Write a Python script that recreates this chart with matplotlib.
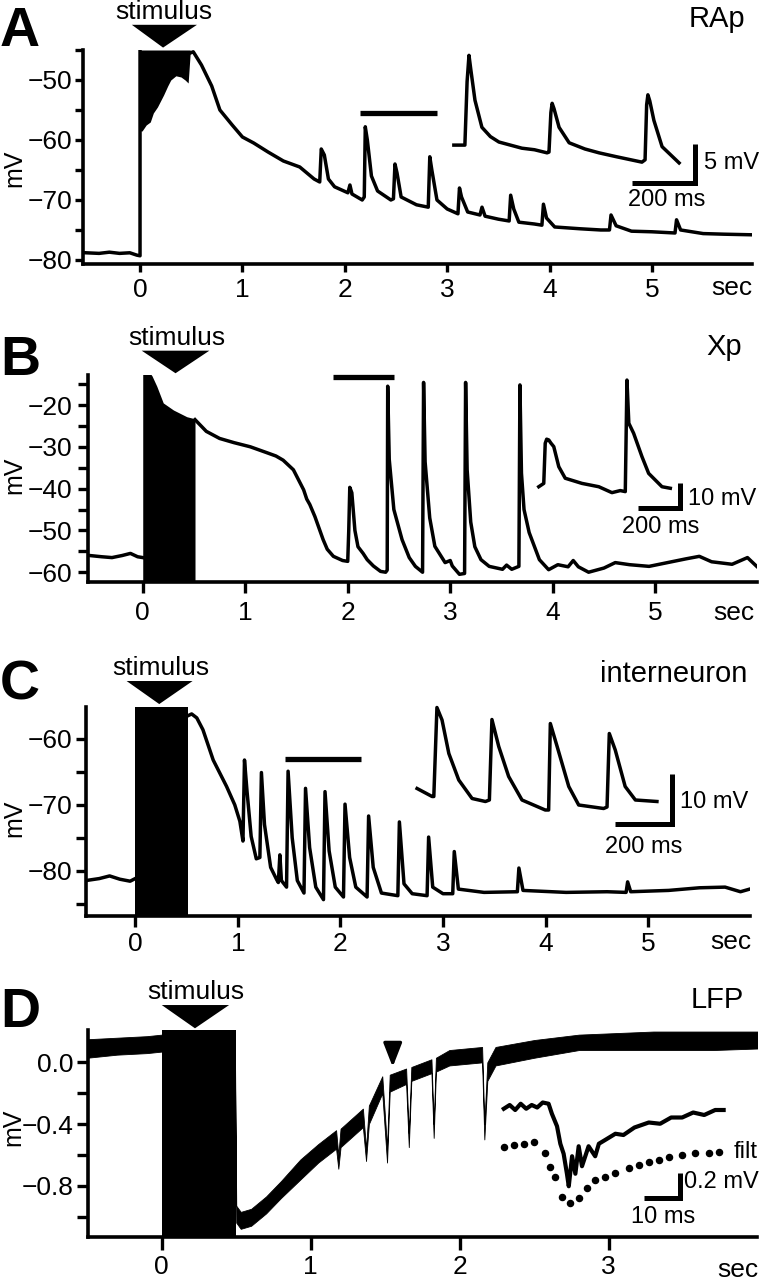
import numpy as np
import matplotlib
matplotlib.use('Agg')
import matplotlib.pyplot as plt
from matplotlib.patches import Polygon

plt.rcParams['font.family'] = ['Liberation Sans', 'DejaVu Sans']

W, H = 764, 1280

# ---------------- data ----------------
# A: RAp
A_base_t = [-0.53, -0.4, -0.3, -0.2, -0.1, -0.03, 0.0, 0.0]
A_base_v = [-78.8, -78.9, -78.7, -78.9, -78.8, -79.2, -79.3, -44.0]
A_stim_t = [0.0, 0.02, 0.06, 0.10, 0.13, 0.17, 0.20, 0.23, 0.27, 0.30, 0.35, 0.40, 0.44, 0.47, 0.49]
A_stim_lo = [-58.5, -58.5, -57.5, -57.0, -55.5, -54.5, -53.5, -52.5, -51.0, -50.0, -49.3, -49.5, -50.0, -50.5, -45.5]
A_t = [0.49, 0.52, 0.6, 0.7, 0.78, 0.9, 1.0, 1.11, 1.25, 1.4, 1.56, 1.7, 1.755, 1.77, 1.8, 1.84, 1.9,
       2.03, 2.05, 2.07, 2.17, 2.19, 2.2, 2.22, 2.26, 2.32, 2.45, 2.475, 2.49, 2.51, 2.55, 2.7, 2.815,
       2.83, 2.85, 2.9, 3.0, 3.105, 3.12, 3.14, 3.2, 3.32, 3.34, 3.37, 3.5, 3.605, 3.62, 3.65, 3.7,
       3.85, 3.925, 3.94, 3.97, 4.05, 4.3, 4.5, 4.585, 4.6, 4.65, 4.8, 5.0, 5.225, 5.24, 5.28, 5.5,
       5.7, 5.97]
A_v = [-45.5, -45.3, -47.5, -51.0, -55.0, -57.5, -59.5, -60.5, -62.0, -63.5, -64.5, -66.5, -67.0,
       -61.5, -62.5, -66.5, -67.8, -68.8, -67.5, -69.0, -70.0, -69.5, -57.8, -60.0, -66.0, -68.5,
       -70.0, -69.8, -64.0, -65.5, -69.5, -70.8, -71.2, -62.8, -65.0, -70.0, -71.5, -72.3, -68.0,
       -69.5, -72.0, -72.5, -71.2, -72.7, -73.2, -73.5, -69.2, -71.5, -73.7, -74.0, -74.2, -70.7,
       -73.0, -74.5, -74.8, -75.0, -75.0, -72.5, -74.3, -75.2, -75.3, -75.5, -73.3, -75.0, -75.6,
       -75.7, -75.8]
A_bar = [2.15, 2.90]
A_bar_v = -55.5
A_ins_ms = [44, 79, 86, 92, 98, 111, 133, 160, 187, 260, 300, 340, 346, 352, 356, 362, 378, 410,
            460, 505, 560, 641, 651, 656, 660, 666, 679, 705, 759]
A_ins_mv = [5.8, 5.8, 14.0, 17.4, 15.5, 11.6, 8.1, 6.9, 6.2, 5.4, 5.2, 4.8, 4.9, 10.0, 11.2, 10.5,
            8.1, 6.1, 5.3, 4.8, 4.3, 3.6, 3.9, 11.0, 12.3, 11.5, 9.0, 5.6, 3.5]

# B: Xp
B_base_t = [-0.52, -0.4, -0.3, -0.2, -0.12, -0.05, 0.0]
B_base_v = [-56.0, -56.3, -56.5, -56.0, -55.5, -56.3, -56.5]
B_stim_t = [0.0, 0.09, 0.137, 0.2, 0.3, 0.43, 0.51]
B_stim_hi = [-10.0, -13.0, -15.5, -19.5, -21.2, -22.8, -23.3]
B_t = [0.51, 0.62, 0.75, 0.89, 1.05, 1.21, 1.3, 1.37, 1.47, 1.57, 1.6, 1.63, 1.68, 1.76, 1.8, 1.86,
       1.95, 2.0, 2.01, 2.02, 2.04, 2.07, 2.1, 2.15, 2.19, 2.25, 2.32, 2.37, 2.385, 2.39, 2.405, 2.45,
       2.53, 2.6, 2.66, 2.73, 2.74, 2.755, 2.8, 2.85, 2.95, 3.0, 3.02, 3.09, 3.14, 3.15, 3.165, 3.2,
       3.24, 3.3, 3.38, 3.51, 3.55, 3.6, 3.67, 3.68, 3.695, 3.72, 3.77, 3.87, 3.96, 4.05, 4.15, 4.2,
       4.25, 4.35, 4.5, 4.61, 4.75, 4.94, 5.1, 5.3, 5.43, 5.55, 5.75, 5.9, 5.99]
B_v = [-23.5, -26.3, -28.0, -29.0, -30.0, -31.4, -32.2, -33.2, -35.5, -40.3, -42.5, -43.8, -46.7,
       -52.2, -54.5, -56.2, -57.2, -57.4, -50.0, -39.7, -41.0, -50.0, -53.9, -55.5, -57.0, -58.5,
       -59.8, -60.0, -59.5, -15.5, -33.0, -45.0, -52.2, -56.5, -58.6, -60.0, -14.6, -33.6, -47.0,
       -53.8, -57.7, -57.2, -58.5, -60.5, -60.3, -14.6, -35.5, -48.0, -53.9, -57.0, -58.6, -59.3,
       -58.3, -59.3, -58.6, -15.2, -36.3, -45.0, -50.5, -57.0, -59.4, -58.2, -58.7, -57.2, -58.7,
       -60.0, -59.0, -57.7, -58.2, -58.6, -57.8, -56.8, -56.2, -57.5, -58.1, -56.5, -58.6]
B_bar = [1.86, 2.45]
B_bar_v = -13.2
B_ins_ms = [42, 66, 73, 80, 90, 100, 114, 138, 169, 249, 330, 393, 433, 457, 465, 474, 497, 537, 569,
            601, 633, 673]
B_ins_mv = [11.0, 12.3, 27.9, 29.5, 29.2, 28.0, 26.6, 18.8, 14.3, 12.3, 11.0, 8.7, 9.5, 9.1, 52.5,
            35.7, 31.8, 22.7, 16.2, 13.6, 11.0, 10.4]

# C: interneuron
C_base_t = [-0.48, -0.35, -0.25, -0.15, -0.05, 0.0]
C_base_v = [-81.5, -81.2, -80.8, -81.3, -81.6, -81.2]
C_stim = [0.0, 0.51]
C_t = [0.51, 0.55, 0.6, 0.66, 0.76, 0.89, 0.97, 1.02, 1.05, 1.065, 1.09, 1.13, 1.18, 1.215, 1.23,
       1.26, 1.32, 1.38, 1.395, 1.41, 1.425, 1.475, 1.49, 1.53, 1.58, 1.645, 1.66, 1.7, 1.76, 1.835,
       1.85, 1.89, 1.95, 2.03, 2.045, 2.09, 2.15, 2.26, 2.275, 2.32, 2.4, 2.56, 2.575, 2.62, 2.7,
       2.845, 2.86, 2.9, 3.0, 3.095, 3.11, 3.15, 3.4, 3.725, 3.74, 3.78, 4.2, 4.6, 4.785, 4.8, 4.83,
       5.2, 5.5, 5.75, 5.9, 5.99]
C_v = [-56.5, -56.2, -56.8, -58.6, -63.2, -67.2, -70.0, -72.5, -75.5, -63.2, -68.0, -74.8, -78.2,
       -78.0, -65.1, -73.0, -79.5, -81.4, -81.8, -77.6, -81.5, -82.5, -64.9, -75.0, -81.5, -83.4,
       -67.5, -76.5, -82.5, -84.4, -68.0, -77.0, -82.5, -84.0, -69.9, -78.0, -82.5, -84.0, -71.7,
       -79.5, -83.4, -83.8, -72.6, -82.0, -83.5, -83.8, -74.9, -82.5, -83.5, -83.5, -77.1, -82.8,
       -83.3, -83.2, -79.6, -83.0, -83.3, -83.2, -83.3, -81.7, -83.2, -83.0, -82.6, -82.5, -83.2,
       -82.8]
C_bar = [1.46, 2.20]
C_bar_v = -63.1
C_ins_ms = [25, 78, 84, 95, 113, 137, 172, 219, 266, 280, 289, 313, 348, 395, 477, 489, 495, 519,
            560, 595, 683, 695, 703, 724, 759, 795, 871]
C_ins_mv = [8.3, 6.7, 6.7, 24.5, 22.0, 15.3, 10.0, 6.3, 5.7, 6.0, 22.1, 16.7, 10.7, 6.0, 4.0, 4.0,
            21.3, 16.7, 8.7, 5.0, 4.3, 4.6, 19.3, 16.0, 8.7, 6.0, 5.7]

# D: LFP
D_stim = [0.0, 0.497]
D_t = [-0.50, -0.30, -0.10, 0.00, 0.49, 0.50, 0.53, 0.60, 0.70, 0.80, 0.93, 1.05, 1.17, 1.185,
       1.20, 1.35, 1.371, 1.39, 1.48, 1.512, 1.53, 1.64, 1.658, 1.675, 1.81, 1.825, 1.84, 1.93,
       2.15, 2.165, 2.185, 2.24, 2.50, 2.80, 3.30, 3.70, 4.00]
D_hi = [0.15, 0.16, 0.17, 0.18, 0.21, -0.93, -0.97, -0.95, -0.87, -0.77, -0.63, -0.53, -0.44, -0.60,
        -0.43, -0.30, -0.56, -0.28, -0.09, -0.55, -0.08, -0.04, -0.46, -0.03, 0.02, -0.40, 0.03,
        0.08, 0.10, -0.40, 0.00, 0.10, 0.145, 0.18, 0.20, 0.20, 0.20]
D_lo = [0.03, 0.05, 0.06, 0.07, 0.07, -1.04, -1.08, -1.06, -0.98, -0.88, -0.76, -0.65, -0.56, -0.69,
        -0.55, -0.42, -0.64, -0.40, -0.20, -0.65, -0.19, -0.14, -0.55, -0.12, -0.07, -0.49, -0.06,
        -0.02, 0.00, -0.50, -0.12, -0.02, 0.03, 0.08, 0.08, 0.08, 0.09]
D_arrow_t = 1.55
D_ins_ms = [2.4, 4, 5.5, 7, 8.5, 10, 11.5, 13, 14.6, 15.5, 16.9, 17.8, 18.7, 19.6, 20.1, 21.0, 21.9,
            22.8, 23.7, 25.5, 27.3, 28.3, 30, 32.8, 35, 38, 41.9, 45, 48, 51, 54, 57, 60, 62.3]
D_ins_mv = [0.81, 0.84, 0.80, 0.85, 0.81, 0.84, 0.82, 0.86, 0.85, 0.77, 0.67, 0.53, 0.45, 0.29,
            0.19, 0.43, 0.29, 0.51, 0.35, 0.51, 0.43, 0.53, 0.56, 0.61, 0.60, 0.66, 0.70, 0.69, 0.74,
            0.74, 0.78, 0.76, 0.80, 0.80]
D_filt_ms = [2.4, 5.1, 7.8, 10.5, 13.7, 15.1, 16.4, 18.3, 20.4, 22.8, 25.1, 27.3, 30.1, 32.8, 36.4,
             39.2, 41.9, 44.6, 47.3, 51.0, 54.6, 58.2, 60.9]
D_filt_mv = [0.506, 0.52, 0.528, 0.546, 0.454, 0.346, 0.266, 0.106, 0.054, 0.094, 0.174, 0.24,
             0.266, 0.294, 0.334, 0.36, 0.386, 0.40, 0.426, 0.44, 0.454, 0.454, 0.466]

# ---------------- drawing ----------------
fig = plt.figure(figsize=(W / 100, H / 100), dpi=100)


def px_rect(x0, y0, x1, y1):
    return [x0 / W, 1 - y1 / H, (x1 - x0) / W, (y1 - y0) / H]


def ptext(x, y, s, **kw):
    fig.text(x / W, 1 - y / H, s, **kw)


def fmt(v, nd):
    return ('%.*f' % (nd, v)).replace('-', '\u2212')


def setup(ax, xlim, ylim, xticks, yticks, yminor, nd=0, xlen=6, ylen=5.5, xpad=4, ypad=2):
    ax.set_xlim(xlim)
    ax.set_ylim(ylim)
    ax.patch.set_visible(False)
    for s in ['top', 'right']:
        ax.spines[s].set_visible(False)
    for s in ['left', 'bottom']:
        ax.spines[s].set_linewidth(2.6)
    ax.set_xticks(xticks)
    ax.set_xticklabels([str(int(v)) for v in xticks])
    ax.set_yticks(yticks)
    ax.set_yticklabels([fmt(v, nd) for v in yticks])
    ax.set_yticks(yminor, minor=True)
    ax.tick_params(which='both', direction='out', width=2.4, labelsize=19)
    ax.tick_params(axis='x', length=xlen, pad=xpad)
    ax.tick_params(axis='y', which='both', length=ylen, pad=ypad)


def stim_marker(ax, t0, t1, tip, vb, vt):
    ax.add_patch(Polygon([[t0, vb], [t1, vb], [tip, vt]], closed=True, color='k', lw=0,
                         clip_on=False))


def inset(box, xs, ys):
    ax = fig.add_axes(px_rect(*box))
    ax.set_xlim(0, (box[2] - box[0]) / xs)
    ax.set_ylim(0, (box[3] - box[1]) / ys)
    ax.axis('off')
    return ax


def scalebar(ax, cx, cy, lx, ly):
    ax.plot([cx - lx, cx, cx], [cy, cy, cy + ly], color='k', lw=3.6,
            solid_joinstyle='miter', solid_capstyle='butt', clip_on=False)


lw = 2.5
fs_lab = 19
fs_small = 17

# ----- A -----
axA = fig.add_axes(px_rect(83, 50, 752, 264))
setup(axA, (-0.557, 5.977), (-80.67, -45), range(6), [-50, -60, -70, -80], [-45, -55, -65, -75])
axA.plot(A_base_t, A_base_v, color='k', lw=lw)
axA.fill_between(A_stim_t, A_stim_lo, -45, color='k', lw=0)
axA.plot(A_t, A_v, color='k', lw=lw)
axA.plot(A_bar, [A_bar_v, A_bar_v], color='k', lw=3.8, solid_capstyle='butt', clip_on=False)
stim_marker(axA, -0.08, 0.556, 0.225, -40.8, -44.6)
insA = inset((440, 40, 700, 190), 0.315, 7.74)
insA.plot(A_ins_ms, A_ins_mv, color='k', lw=lw, clip_on=False)
scalebar(insA, 809, 0.9, 200, 5)

ptext(0, 46, 'A', fontsize=40, fontweight='bold', va='baseline')
ptext(745, 27, 'RAp', fontsize=21, ha='right', va='baseline')
ptext(164, 19, 'stimulus', fontsize=fs_lab, ha='center', va='baseline')
ptext(14, 168, 'mV', fontsize=18, rotation=90, ha='center', va='center')
ptext(752, 288, 'sec', fontsize=fs_lab, ha='right', va='center')
ptext(704, 163, '5 mV', fontsize=fs_small, ha='left', va='center')
ptext(667, 200, '200 ms', fontsize=fs_small, ha='center', va='center')

# ----- B -----
axB = fig.add_axes(px_rect(88, 375, 757, 582))
setup(axB, (-0.534, 5.993), (-62.34, -12.82), range(6), [-20, -30, -40, -50, -60],
      [-15, -25, -35, -45, -55], xlen=8, ylen=7, xpad=6, ypad=4)
axB.plot(B_base_t, B_base_v, color='k', lw=lw)
axB.fill_between(B_stim_t, -62.34, B_stim_hi, color='k', lw=0)
axB.plot(B_t, B_v, color='k', lw=lw)
axB.plot(B_bar, [B_bar_v, B_bar_v], color='k', lw=3.8, solid_capstyle='butt', clip_on=False)
stim_marker(axB, -0.01, 0.65, 0.32, -7.0, -12.4)
insB = inset((530, 370, 700, 515), 0.2085, 2.57)
insB.plot(B_ins_ms, B_ins_mv, color='k', lw=lw, clip_on=False)
scalebar(insB, 718, 2.6, 200, 10)

ptext(0, 375, 'B', fontsize=40, fontweight='bold', va='baseline')
ptext(742, 355, 'Xp', fontsize=21, ha='right', va='baseline')
ptext(177, 345, 'stimulus', fontsize=fs_lab, ha='center', va='baseline')
ptext(14, 475, 'mV', fontsize=18, rotation=90, ha='center', va='center')
ptext(754, 613, 'sec', fontsize=fs_lab, ha='right', va='center')
ptext(688, 499, '10 mV', fontsize=fs_small, ha='left', va='center')
ptext(661, 527, '200 ms', fontsize=fs_small, ha='center', va='center')

# ----- C -----
axC = fig.add_axes(px_rect(86, 706.7, 749.7, 915.7))
setup(axC, (-0.48, 5.99), (-86.84, -55.1), range(6), [-60, -70, -80], [-65, -75, -85],
      xlen=8, ylen=7, xpad=4, ypad=3)
axC.plot(C_base_t, C_base_v, color='k', lw=lw)
axC.axvspan(C_stim[0], C_stim[1], color='k', lw=0)
axC.plot(C_t, C_v, color='k', lw=lw)
axC.plot(C_bar, [C_bar_v, C_bar_v], color='k', lw=3.8, solid_capstyle='butt', clip_on=False)
stim_marker(axC, -0.084, 0.559, 0.234, -51.2, -54.7)
insC = inset((410, 700, 675, 830), 0.2835, 5.0)
insC.plot(C_ins_ms, C_ins_mv, color='k', lw=lw, clip_on=False)
scalebar(insC, 924, 1.2, 200, 10)

ptext(0, 700, 'C', fontsize=40, fontweight='bold', va='baseline')
ptext(747, 682, 'interneuron', fontsize=21, ha='right', va='baseline')
ptext(161, 675, 'stimulus', fontsize=fs_lab, ha='center', va='baseline')
ptext(14, 818, 'mV', fontsize=18, rotation=90, ha='center', va='center')
ptext(751, 942, 'sec', fontsize=fs_lab, ha='right', va='center')
ptext(680, 802, '10 mV', fontsize=fs_small, ha='left', va='center')
ptext(644, 847, '200 ms', fontsize=fs_small, ha='center', va='center')

# ----- D -----
axD = fig.add_axes(px_rect(87.7, 1030, 757, 1236.7))
setup(axD, (-0.497, 3.995), (-1.131, 0.21), range(4), [0.0, -0.4, -0.8], [-0.2, -0.6, -1.0],
      nd=1, xlen=9, ylen=8, xpad=4, ypad=2)
axD.fill_between(D_t, D_lo, D_hi, color='k', lw=0.6)
axD.axvspan(D_stim[0], D_stim[1], color='k', lw=0)
axD.annotate('', xy=(D_arrow_t, -0.03), xytext=(D_arrow_t, 0.105),
             arrowprops=dict(arrowstyle='-|>,head_width=0.35,head_length=0.9', color='k', lw=2.4,
                             mutation_scale=16, shrinkA=0, shrinkB=0))
stim_marker(axD, 0.0, 0.452, 0.223, 0.372, 0.221)
insD = inset((495, 1095, 725, 1210), 3.67, 125)
insD.plot(D_ins_ms, D_ins_mv, color='k', lw=3.0, clip_on=False)
insD.plot(D_filt_ms, D_filt_mv, 'o', color='k', ms=4.4, clip_on=False)
scalebar(insD, 50.5, 0.094, 10, 0.2)

ptext(0, 1027, 'D', fontsize=40, fontweight='bold', va='baseline')
ptext(744, 1008, 'LFP', fontsize=21, ha='right', va='baseline')
ptext(196, 999, 'stimulus', fontsize=fs_lab, ha='center', va='baseline')
ptext(13, 1127, 'mV', fontsize=18, rotation=90, ha='center', va='center')
ptext(758, 1270, 'sec', fontsize=fs_lab, ha='right', va='center')
ptext(734, 1152, 'filt', fontsize=fs_small, ha='left', va='center')
ptext(684, 1182, '0.2 mV', fontsize=fs_small, ha='left', va='center')
ptext(663, 1217, '10 ms', fontsize=fs_small, ha='center', va='center')

fig.savefig('out.png', dpi=100)
